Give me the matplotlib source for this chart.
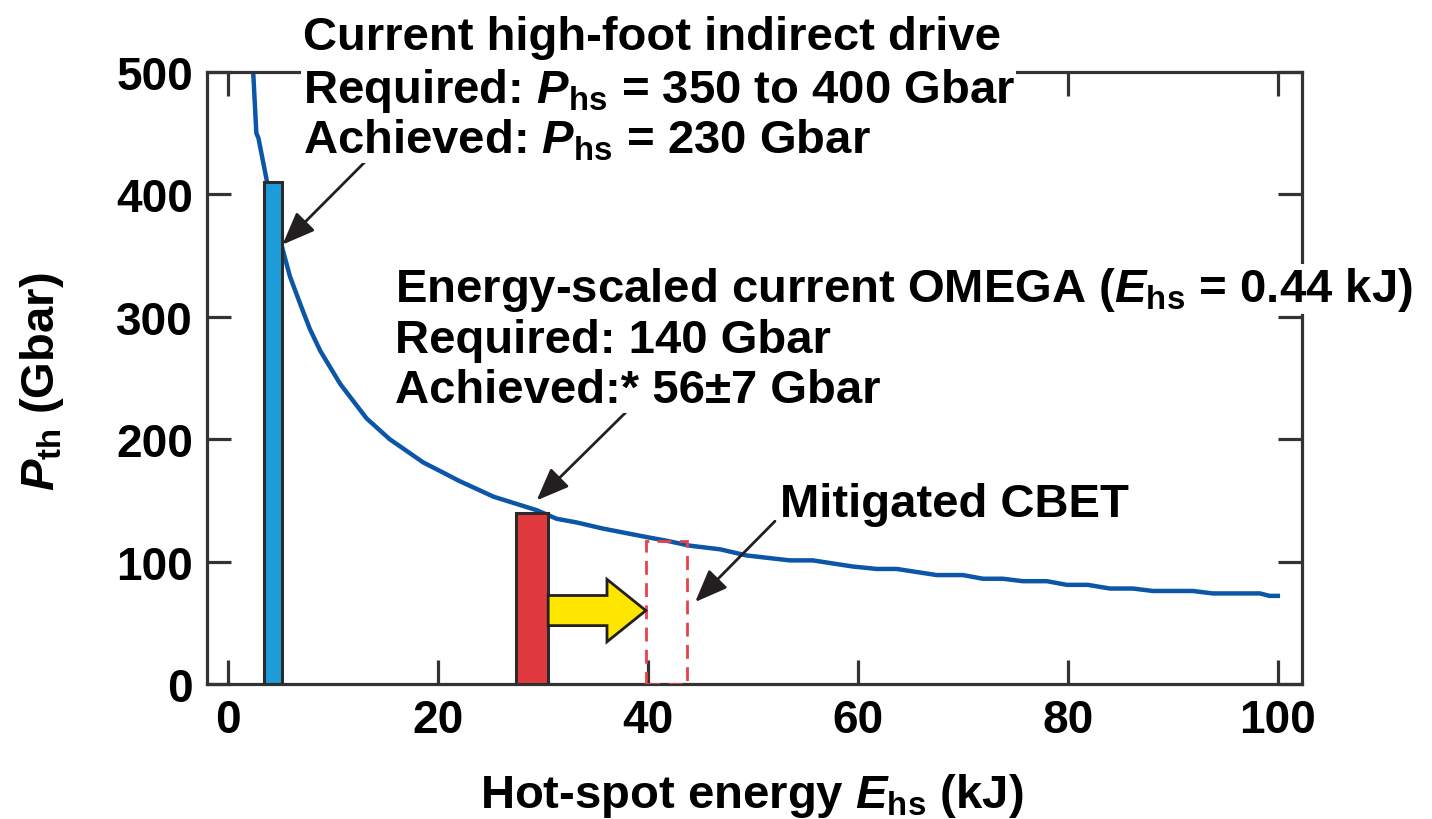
import matplotlib
matplotlib.use("Agg")
import matplotlib.pyplot as plt
from matplotlib.patches import Rectangle, Polygon

FONT = 'Liberation Sans'
plt.rcParams['font.family'] = [FONT, 'DejaVu Sans']
plt.rcParams['font.weight'] = 'bold'
plt.rcParams['mathtext.fontset'] = 'custom'
plt.rcParams['mathtext.rm'] = FONT + ':bold'
plt.rcParams['mathtext.it'] = FONT + ':italic:bold'
plt.rcParams['mathtext.bf'] = FONT + ':bold'

# threshold pressure vs hot-spot energy
e_hs = [2.4, 2.7, 2.9, 3.7, 4.4, 5.3, 5.9, 6.9, 7.8, 8.8, 10.7, 13.2, 15.4, 18.6,
        20.2, 22.0, 25.3, 29.4, 31.3, 33.2, 35.7, 39.9, 41.8, 44.0, 46.9, 49.4,
        53.5, 55.7, 59.5, 61.8, 63.7, 67.5, 70.0, 71.9, 73.8, 75.7, 78.0, 79.9,
        81.9, 84.0, 86.2, 88.1, 91.9, 93.8, 98.3, 99.2, 100.0]
p_th = [500, 450, 446, 411, 382, 352, 333, 310, 290, 272, 245, 217, 200, 181,
        174, 166, 153, 142, 135, 132, 127, 120, 117, 113, 110, 105,
        101, 101, 96, 94, 94, 89, 89, 86, 86, 84, 84, 81,
        81, 78, 78, 76, 76, 74, 74, 72, 72]

# bars: indirect drive, OMEGA (energy scaled), mitigated CBET
bar_left = [3.43, 27.4, 39.8]
bar_width = [1.71, 3.1, 3.9]
bar_height = [410, 140, 117]

xticks = [0, 20, 40, 60, 80, 100]
yticks = [0, 100, 200, 300, 400, 500]

fig = plt.figure(figsize=(14.32, 8.2), dpi=100)
ax = fig.add_axes([207 / 1432, 1 - 685 / 820, 1095 / 1432, 612 / 820])
ax.set_xlim(-2, 102.3)
ax.set_ylim(0, 500)

ax.plot(e_hs, p_th, color='#0b56a6', lw=3.2, zorder=2)

edge = '#2b2b2b'
ax.add_patch(Rectangle((bar_left[0], 0), bar_width[0], bar_height[0],
                       facecolor='#1e9cd9', edgecolor=edge, lw=2.2, zorder=3))
ax.add_patch(Rectangle((bar_left[1], 0), bar_width[1], bar_height[1],
                       facecolor='#e03a3e', edgecolor=edge, lw=2.2, zorder=3))
ax.add_patch(Rectangle((bar_left[2], 0), bar_width[2], bar_height[2],
                       facecolor='none', edgecolor='#e8424a', lw=2,
                       ls=(0, (5, 3)), zorder=3))

# yellow block arrow from the OMEGA bar to the mitigated box
x0 = bar_left[1] + bar_width[1]
x1 = bar_left[2]
xh = x1 - 3.7
yc, sh, hh = 60, 12.3, 25.5
ax.add_patch(Polygon([(x0, yc - sh), (xh, yc - sh), (xh, yc - hh), (x1, yc),
                      (xh, yc + hh), (xh, yc + sh), (x0, yc + sh)],
                     closed=True, facecolor='#ffe600', edgecolor='#231f20',
                     lw=2, zorder=3))

ax.set_xticks(xticks)
ax.set_yticks(yticks)
ax.tick_params(direction='in', length=17, width=2.3, color='#333333',
               top=True, right=True, labelsize=33, pad=10)
for lab in ax.get_xticklabels() + ax.get_yticklabels():
    lab.set_fontweight('bold')
for s in ax.spines.values():
    s.set_linewidth(2.3)
    s.set_color('#333333')

arrow = dict(arrowstyle='-|>,head_length=1.0,head_width=0.4', lw=2,
             color='#231f20', shrinkA=0, shrinkB=0, mutation_scale=20)
ax.annotate('', xy=(5.2, 359), xytext=(13.1, 427), arrowprops=arrow, zorder=5)
ax.annotate('', xy=(29.4, 150), xytext=(37.9, 222), arrowprops=arrow, zorder=5)
ax.annotate('', xy=(44.5, 67), xytext=(52.1, 133), arrowprops=arrow, zorder=5)

txt = dict(fontsize=34, fontweight='bold', ha='left', va='baseline',
           clip_on=False, zorder=6,
           bbox=dict(facecolor='white', edgecolor='none', pad=1))
ax.text(7.1, 518.8, 'Current high-foot indirect drive', **txt)
ax.text(7.1, 475.5, r'Required: $\mathit{P}_{\mathrm{hs}}$ = 350 to 400 Gbar', **txt)
ax.text(7.1, 434.6, r'Achieved: $\mathit{P}_{\mathrm{hs}}$ = 230 Gbar', **txt)
ax.text(15.9, 312.9, r'Energy-scaled current OMEGA ($\mathit{E}_{\mathrm{hs}}$ = 0.44 kJ)', **txt)
ax.text(15.9, 271.2, 'Required: 140 Gbar', **txt)
ax.text(15.9, 230.4, 'Achieved:* 56±7 Gbar', **txt)
ax.text(52.6, 137.3, 'Mitigated CBET', **txt)

fig.text(752 / 1432, 1 - 808 / 820, r'Hot-spot energy $\mathit{E}_{\mathrm{hs}}$ (kJ)',
         fontsize=34, fontweight='bold', ha='center', va='baseline')
fig.text(42 / 1432, 1 - 382 / 820, r'$\mathit{P}_{\mathrm{th}}$ (Gbar)', rotation=90,
         fontsize=34, fontweight='bold', ha='center', va='center')

fig.savefig('out.png', dpi=100)
